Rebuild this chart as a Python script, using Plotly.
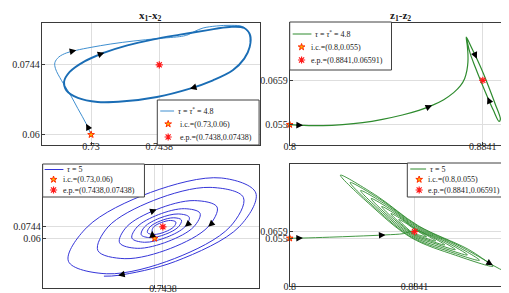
import math
import plotly.graph_objects as go

# ---------------- data ----------------
# Top-left: x1-x2, tau = tau* = 4.8
x1_tr = [0.73, 0.729, 0.72733, 0.72567, 0.724, 0.7228, 0.72267, 0.72347, 0.725, 0.727, 0.73, 0.734,
         0.73867, 0.74333, 0.74833, 0.74967, 0.751, 0.75267, 0.75533, 0.75833, 0.76067, 0.762, 0.7622]
x2_tr = [0.06, 0.06226, 0.06535, 0.06844, 0.07118, 0.07358, 0.07482, 0.07598, 0.07681, 0.07736, 0.07797, 0.07866,
         0.07928, 0.07976, 0.08024, 0.08058, 0.08127, 0.08195, 0.08236, 0.0825, 0.08223, 0.08079, 0.07907]
x1_cyc = [0.72867, 0.73267, 0.73733, 0.74267, 0.748, 0.75333, 0.758, 0.761, 0.7622, 0.7621, 0.761, 0.75867,
          0.75467, 0.75, 0.74333, 0.73667, 0.73133, 0.72733, 0.725, 0.72453, 0.72567, 0.72867, 0.73267]
x2_cyc = [0.07509, 0.07688, 0.07839, 0.07962, 0.08058, 0.08147, 0.08216, 0.08195, 0.08044, 0.07804, 0.07564, 0.07324,
          0.07118, 0.06947, 0.06775, 0.06686, 0.06672, 0.06755, 0.06912, 0.07084, 0.0729, 0.07509, 0.07688]

# Top-right: z1-z2, tau = tau* = 4.8
z1_a = [0.8, 0.80577, 0.81443, 0.82308, 0.83174, 0.84039, 0.84905, 0.85626, 0.86203, 0.86708, 0.8714, 0.87429,
        0.87616, 0.87717, 0.87761, 0.87761, 0.87732, 0.87689, 0.87905, 0.8815, 0.88439, 0.88698, 0.88944, 0.89174,
        0.89117, 0.88871, 0.88612, 0.88338, 0.88078, 0.87862, 0.87717, 0.87689, 0.87905, 0.8815]
z2_a = [0.055, 0.05484, 0.05475, 0.055, 0.05549, 0.05631, 0.05738, 0.05852, 0.05975, 0.06115, 0.06287, 0.06451,
        0.06631, 0.06836, 0.07041, 0.07246, 0.0745, 0.07655, 0.07409, 0.07123, 0.06754, 0.06385, 0.06016, 0.05631,
        0.05582, 0.05852, 0.0618, 0.06549, 0.06918, 0.07246, 0.07573, 0.07655, 0.07409, 0.07123]

# Bottom-left: x1-x2, tau = 5
x1_b = [0.73, 0.72564, 0.72844, 0.74122, 0.75655, 0.76559, 0.76206, 0.74693, 0.7285, 0.71785, 0.72222, 0.74013,
        0.76197, 0.77493, 0.76995, 0.74829, 0.72212, 0.70748, 0.71309, 0.7385, 0.76962, 0.78791, 0.78074, 0.75012,
        0.71288, 0.69191, 0.70064, 0.73639, 0.78014, 0.80607, 0.79568, 0.75264, 0.70076, 0.67115, 0.68279, 0.73326,
        0.7964, 0.83461, 0.81975, 0.75686, 0.68004, 0.63483, 0.65167, 0.72782, 0.82286, 0.87871, 0.85668, 0.76311,
        0.64975, 0.58554, 0.61681, 0.72292, 0.84167, 0.89947, 0.87204, 0.76481, 0.66874, 0.64497]
x2_b = [0.06, 0.06946, 0.07434, 0.07967, 0.0823, 0.08029, 0.07443, 0.06798, 0.06488, 0.06734, 0.07432, 0.0819,
        0.08566, 0.08282, 0.07445, 0.06519, 0.06092, 0.06453, 0.0743, 0.08524, 0.09041, 0.08634, 0.07448, 0.06143,
        0.05518, 0.06031, 0.07427, 0.08955, 0.09694, 0.09126, 0.07452, 0.05628, 0.04766, 0.05468, 0.07422, 0.09596,
        0.10703, 0.099, 0.07458, 0.04765, 0.0348, 0.04483, 0.07414, 0.10709, 0.12346, 0.11096, 0.07468, 0.03485,
        0.016, 0.03147, 0.07404, 0.11711, 0.13514, 0.11659, 0.07472, 0.03137, 0.01399, 0.01303]

# Bottom-right: z1-z2, tau = 5
z1_b = [0.8, 0.8089, 0.8267, 0.8445, 0.86452, 0.87676,
        0.88455, 0.88886, 0.89224, 0.88828,
        0.88343, 0.8776, 0.87347, 0.8789, 0.88477, 0.89235, 0.89834, 0.89151,
        0.88321, 0.87447, 0.86817, 0.8762, 0.88499, 0.89587, 0.90444, 0.89471,
        0.88299, 0.87082, 0.86196, 0.873, 0.88521, 0.89992, 0.91156, 0.8985,
        0.88265, 0.86661, 0.85489, 0.86942, 0.88555, 0.90461, 0.9197, 0.90275,
        0.88232, 0.86239, 0.84779, 0.86586, 0.88588, 0.90931, 0.92782, 0.907,
        0.88199, 0.85818, 0.84072, 0.86228, 0.88622, 0.91458, 0.93696, 0.91182,
        0.88177, 0.85435, 0.83415, 0.85889, 0.88644, 0.9203, 0.93683, 0.94713]
z2_b = [0.055, 0.05527, 0.05664, 0.05827, 0.06045, 0.06263,
        0.06781, 0.06263, 0.05707, 0.05947,
        0.06307, 0.07473, 0.08574, 0.07887, 0.06873, 0.0598, 0.05042, 0.055,
        0.06214, 0.07953, 0.09566, 0.08508, 0.06966, 0.05691, 0.04383, 0.05059,
        0.06116, 0.08519, 0.10727, 0.09217, 0.07064, 0.05347, 0.03609, 0.04552,
        0.05974, 0.09141, 0.12051, 0.10045, 0.07206, 0.04982, 0.02726, 0.03947,
        0.05832, 0.09767, 0.1337, 0.10879, 0.07348, 0.04617, 0.01843, 0.03342,
        0.05691, 0.10389, 0.14694, 0.11708, 0.07489, 0.04187, 0.00851, 0.02671,
        0.05598, 0.10994, 0.1592, 0.12454, 0.07582, 0.03663, 0.01031, -0.00255]

ic_x = [0.73, 0.06]
ic_z = [0.8, 0.055]
ep_x = [0.7438, 0.07438]
ep_z = [0.8841, 0.06591]

x_ticks_top = [0.73, 0.7438]
x_ticktext_top = ["0.73", "0.7438"]
x_ticktext_bot = ["", "0.7438"]
x2_ticks = [0.06, 0.0744]
x2_ticktext = ["0.06", "0.0744"]
z1_ticks = [0.8, 0.8841]
z1_ticktext = ["0.8", "0.8841"]
z2_ticks = [0.055, 0.0659]
z2_ticktext = ["0.055", "0.0659"]

tau_star = "<i>τ</i> = <i>τ</i><sup>*</sup> = 4.8"
tau5 = "<i>τ</i> = 5"
legend_texts = {
    "tl": [tau_star, "i.c.=(0.73,0.06)", "e.p.=(0.7438,0.07438)"],
    "tr": [tau_star, "i.c.=(0.8,0.055)", "e.p.=(0.8841,0.06591)"],
    "bl": [tau5, "i.c.=(0.73,0.06)", "e.p.=(0.7438,0.07438)"],
    "br": [tau5, "i.c.=(0.8,0.055)", "e.p.=(0.8841,0.06591)"],
}

# arrow positions: indices into the trajectories
arr_tl_tr = [1, 9]
arr_tl_cyc = [1, 13]
arr_tr = [1, 8, 19, 26]
arr_bl = [1, 22, 35, 38, 56]
arr_br = [1, 4, 64]

# ---------------- layout / style ----------------
W, H = 509, 293
FONT = "Liberation Serif"
BLUE_T = "#3f8fd0"
BLUE_C = "#1a6db5"
BLUE_B = "#3535d8"
GREEN = "#2e8b2e"
STAR_FILL, STAR_EDGE, EP_COL = "#ffb300", "#ff2a00", "#ff1a1a"
STAR_SIZE, EP_SIZE = 5, 6

# pixel boxes (left, top, right, bottom)
boxes = {
    "tl": (28, 15, 249, 137),
    "tr": (279, 15, 503, 137),
    "bl": (29, 157, 248, 280),
    "br": (279, 156, 503, 278),
}
ranges = {
    "tl": ([0.72, 0.7642], [0.05787, 0.08298]),
    "tr": ([0.8, 0.8964], [0.0500, 0.0800]),
    "bl": ([0.5423, 0.905], [-0.0017, 0.1513]),
    "br": ([0.8, 0.9491], [-0.024, 0.1776]),
}
axnames = {"tl": ("x", "y"), "tr": ("x2", "y2"), "bl": ("x3", "y3"), "br": ("x4", "y4")}
x_label_standoff = {"tl": -8, "tr": -8, "bl": -9, "br": -9}

# legend placement (pixels): box, row centres, key line span, key marker x, text x (line row, marker rows)
legend_layout = {
    "tl": dict(box=(145, 92, 248, 137), rows=(103, 116, 129), line=(148, 162), mk=156, tx=(164, 166),
               color=BLUE_T),
    "tr": dict(box=(279, 14, 382, 62), rows=(26, 39, 52), line=(282, 301), mk=291, tx=(303, 299),
               color=GREEN),
    "bl": dict(box=(29, 156, 132, 189), rows=(161.5, 171.5, 182), line=(31, 50), mk=40, tx=(52, 48),
               color=BLUE_B),
    "br": dict(box=(398, 155, 502, 189), rows=(161, 171.5, 182), line=(401, 417), mk=410, tx=(419, 417),
               color=GREEN),
}


def dom(key):
    l, t, r, b = boxes[key]
    return [l / W, r / W], [1 - b / H, 1 - t / H]


fig = go.Figure()


def line_trace(xs, ys, key, color, width):
    xa, ya = axnames[key]
    fig.add_trace(go.Scatter(x=xs, y=ys, xaxis=xa, yaxis=ya, mode="lines",
                             line=dict(color=color, width=width, shape="spline", smoothing=1.0),
                             showlegend=False, hoverinfo="skip"))


def point_traces(ic, ep, key):
    xa, ya = axnames[key]
    fig.add_trace(go.Scatter(x=[ic[0]], y=[ic[1]], xaxis=xa, yaxis=ya, mode="markers",
                             marker=dict(symbol="star", size=STAR_SIZE, color=STAR_FILL,
                                         line=dict(color=STAR_EDGE, width=1)),
                             showlegend=False, cliponaxis=False))
    fig.add_trace(go.Scatter(x=[ep[0]], y=[ep[1]], xaxis=xa, yaxis=ya, mode="markers",
                             marker=dict(symbol="asterisk-open", size=EP_SIZE, color=EP_COL,
                                         line=dict(color=EP_COL, width=1.2)),
                             showlegend=False, cliponaxis=False))


line_trace(x1_tr, x2_tr, "tl", BLUE_T, 1)
line_trace(x1_cyc, x2_cyc, "tl", BLUE_C, 1.9)
point_traces(ic_x, ep_x, "tl")
line_trace(z1_a, z2_a, "tr", GREEN, 1.2)
point_traces(ic_z, ep_z, "tr")
line_trace(x1_b, x2_b, "bl", BLUE_B, 1)
point_traces(ic_x, ep_x, "bl")
line_trace(z1_b, z2_b, "br", GREEN, 0.9)
point_traces(ic_z, ep_z, "br")

# axes
tickfont = dict(family=FONT, size=10, color="#262626")
axis_common = dict(showline=True, linecolor="#3a3a3a", linewidth=1, mirror=True,
                   showgrid=True, gridcolor="#dedede", gridwidth=1, zeroline=False,
                   ticks="inside", ticklen=3, tickcolor="#3a3a3a", tickfont=tickfont,
                   tickmode="array")
specs = {
    "tl": (x_ticks_top, x_ticktext_top, x2_ticks, x2_ticktext),
    "tr": (z1_ticks, z1_ticktext, z2_ticks, z2_ticktext),
    "bl": (x_ticks_top, x_ticktext_bot, x2_ticks, x2_ticktext),
    "br": (z1_ticks, z1_ticktext, z2_ticks, z2_ticktext),
}
layout_axes = {}
for i, key in enumerate(["tl", "tr", "bl", "br"]):
    dx, dy = dom(key)
    xr, yr = ranges[key]
    xt, xtt, yt, ytt = specs[key]
    sfx = "" if i == 0 else str(i + 1)
    layout_axes["xaxis" + sfx] = dict(axis_common, domain=dx, range=xr, tickvals=xt, ticktext=xtt,
                                      anchor="y" + sfx, ticklabelstandoff=x_label_standoff[key])
    layout_axes["yaxis" + sfx] = dict(axis_common, domain=dy, range=yr, tickvals=yt, ticktext=ytt,
                                      anchor="x" + sfx, ticklabelstandoff=-1)
# overlay pixel-space axis used only for legend keys
layout_axes["xaxis5"] = dict(domain=[0, 1], range=[0, W], visible=False, fixedrange=True, anchor="y5")
layout_axes["yaxis5"] = dict(domain=[0, 1], range=[H, 0], visible=False, fixedrange=True, anchor="x5")

annotations = []
shapes = []


def add_arrows(xs, ys, idxs, key, L=8):
    xa, ya = axnames[key]
    l, t, r, b = boxes[key]
    xr, yr = ranges[key]
    sx = (r - l) / (xr[1] - xr[0])
    sy = (b - t) / (yr[1] - yr[0])
    for k in idxs:
        k0 = max(k - 1, 0)
        k1 = min(k + 1, len(xs) - 1)
        dx = (xs[k1] - xs[k0]) * sx
        dy = -(ys[k1] - ys[k0]) * sy
        n = math.hypot(dx, dy) or 1.0
        annotations.append(dict(x=xs[k], y=ys[k], xref=xa, yref=ya, text="",
                                showarrow=True, arrowhead=2, arrowsize=1.2, arrowwidth=1.1,
                                arrowcolor="black", standoff=0,
                                ax=-dx / n * L, ay=-dy / n * L))


add_arrows(x1_tr, x2_tr, arr_tl_tr, "tl")
add_arrows(x1_cyc, x2_cyc, arr_tl_cyc, "tl")
add_arrows(z1_a, z2_a, arr_tr, "tr")
add_arrows(x1_b, x2_b, arr_bl, "bl")
add_arrows(z1_b, z2_b, arr_br, "br")

# titles
for key, txt in [("tl", "<b>x<sub>1</sub>-x<sub>2</sub></b>"), ("tr", "<b>z<sub>1</sub>-z<sub>2</sub></b>")]:
    l, t, r, b = boxes[key]
    annotations.append(dict(x=(l + r) / 2 / W, y=1 - 8 / H, xref="paper", yref="paper", text=txt,
                            showarrow=False, font=dict(family=FONT, size=11, color="#202020"),
                            xanchor="center", yanchor="middle"))

# legends (boxes, keys, texts)
for key, lg in legend_layout.items():
    l, t, r, b = lg["box"]
    shapes.append(dict(type="rect", xref="x5", yref="y5", x0=l, x1=r, y0=t, y1=b, layer="below",
                       fillcolor="white", line=dict(color="#404040", width=1)))
    r0, r1, r2 = lg["rows"]
    shapes.append(dict(type="line", xref="x5", yref="y5", x0=lg["line"][0], x1=lg["line"][1],
                       y0=r0, y1=r0, layer="below", line=dict(color=lg["color"], width=1)))
    fig.add_trace(go.Scatter(x=[lg["mk"]], y=[r1], xaxis="x5", yaxis="y5", mode="markers",
                             marker=dict(symbol="star", size=STAR_SIZE, color=STAR_FILL,
                                         line=dict(color=STAR_EDGE, width=1)),
                             showlegend=False, hoverinfo="skip", cliponaxis=False))
    fig.add_trace(go.Scatter(x=[lg["mk"]], y=[r2], xaxis="x5", yaxis="y5", mode="markers",
                             marker=dict(symbol="asterisk-open", size=EP_SIZE, color=EP_COL,
                                         line=dict(color=EP_COL, width=1.2)),
                             showlegend=False, hoverinfo="skip", cliponaxis=False))
    texts = legend_texts[key]
    for j, (row, txt) in enumerate(zip(lg["rows"], texts)):
        annotations.append(dict(x=lg["tx"][0] if j == 0 else lg["tx"][1], y=row, xref="x5", yref="y5",
                                text=txt, showarrow=False, xanchor="left", yanchor="middle",
                                font=dict(family=FONT, size=8, color="#202020")))

fig.update_layout(
    width=W, height=H, margin=dict(l=0, r=0, t=0, b=0),
    paper_bgcolor="white", plot_bgcolor="rgba(0,0,0,0)",
    annotations=annotations, shapes=shapes, showlegend=False,
    **layout_axes,
)

fig.write_html("out.html")
